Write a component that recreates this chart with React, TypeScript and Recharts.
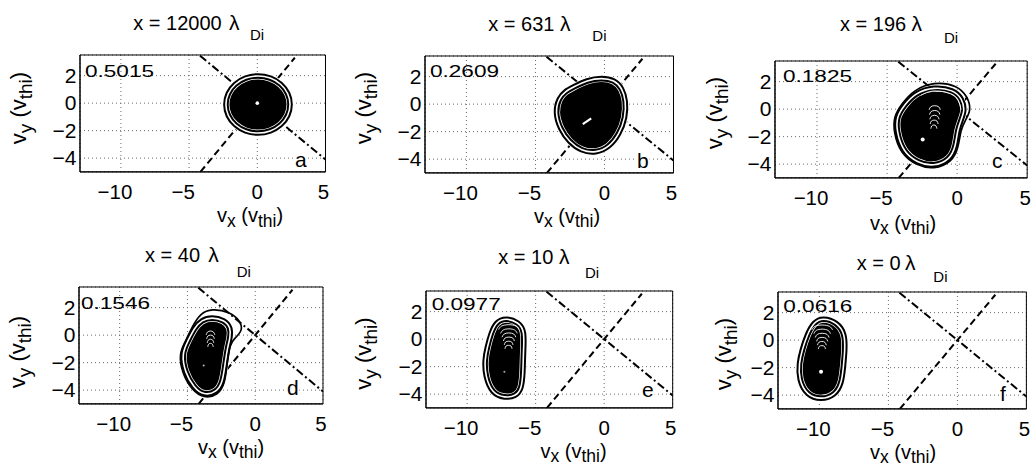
import React from 'react';
import { ScatterChart, Scatter, XAxis, YAxis, CartesianGrid, ReferenceArea, Curve } from 'recharts';

const FONT = "'Liberation Sans', Arial, Helvetica, sans-serif";

// ---------------- data ----------------
const xTicks = [-10, -5, 0, 5];
const yTicks = [2, 0, -2, -4];
const xDomain: [number, number] = [-13, 5];
const yDomain: [number, number] = [-5, 3.5];

const titleValues = ['12000', '631', '196', '40', '10', '0'];
const fractions = ['0.5015', '0.2609', '0.1825', '0.1546', '0.0977', '0.0616'];
const panelLetters = ['a', 'b', 'c', 'd', 'e', 'f'];

const dashedLine = [{ x: -4.17, y: -5 }, { x: 2.75, y: 3.3 }];
const dashDotLine = [{ x: -4.2, y: 3.45 }, { x: 5, y: -4.1 }];

const coreA = [
  { x: 2.46, y: -0.1 }, { x: 2.28, y: 0.72 }, { x: 1.75, y: 1.41 }, { x: 0.97, y: 1.87 },
  { x: 0.05, y: 2.03 }, { x: -0.87, y: 1.87 }, { x: -1.65, y: 1.41 }, { x: -2.18, y: 0.72 },
  { x: -2.36, y: -0.1 }, { x: -2.18, y: -0.92 }, { x: -1.65, y: -1.61 }, { x: -0.87, y: -2.07 },
  { x: 0.05, y: -2.23 }, { x: 0.97, y: -2.07 }, { x: 1.75, y: -1.61 }, { x: 2.28, y: -0.92 },
];
const coreB = [
  { x: -2.28, y: 1.22 }, { x: -1.25, y: 1.74 }, { x: -0.2, y: 1.91 }, { x: 0.72, y: 1.75 },
  { x: 1.28, y: 1.15 }, { x: 1.55, y: 0.25 }, { x: 1.52, y: -0.98 }, { x: 1.06, y: -2.2 },
  { x: 0.35, y: -3.12 }, { x: -0.62, y: -3.55 }, { x: -1.68, y: -3.4 }, { x: -2.55, y: -2.75 },
  { x: -3.2, y: -1.82 }, { x: -3.58, y: -0.6 }, { x: -3.3, y: 0.45 }, { x: -2.83, y: 0.93 },
];
const coreC = [
  { x: -1.67, y: 1.62 }, { x: -0.25, y: 1.4 }, { x: 0.35, y: 0.75 }, { x: 0.55, y: -0.05 },
  { x: 0.3, y: -0.75 }, { x: 0.02, y: -1.5 }, { x: -0.1, y: -2.7 }, { x: -0.52, y: -3.68 },
  { x: -1.67, y: -4.17 }, { x: -2.8, y: -3.92 }, { x: -3.86, y: -3.1 }, { x: -4.32, y: -1.6 },
  { x: -4.32, y: -0.55 }, { x: -3.75, y: 0.32 }, { x: -2.98, y: 1.18 },
];
const coreD = [
  { x: -3.2, y: 1.3 }, { x: -2.3, y: 1.1 }, { x: -1.8, y: 0.55 }, { x: -1.85, y: -0.2 },
  { x: -2.05, y: -0.9 }, { x: -2.25, y: -2.3 }, { x: -2.42, y: -3.45 }, { x: -2.85, y: -4.15 },
  { x: -3.8, y: -4.38 }, { x: -4.52, y: -3.82 }, { x: -5.18, y: -2.72 }, { x: -5.42, y: -1.33 },
  { x: -4.97, y: -0.45 }, { x: -4.5, y: 0.5 }, { x: -3.95, y: 1.1 },
];
const coreE = [
  { x: -7.15, y: 1.55 }, { x: -6.25, y: 1.22 }, { x: -5.8, y: 0.6 }, { x: -5.9, y: -1.0 },
  { x: -5.92, y: -2.45 }, { x: -6.03, y: -3.62 }, { x: -6.45, y: -4.15 }, { x: -7.27, y: -4.27 },
  { x: -8.17, y: -3.95 }, { x: -8.67, y: -2.7 }, { x: -8.72, y: -1.5 }, { x: -8.52, y: -0.55 },
  { x: -8.26, y: 0.4 }, { x: -7.9, y: 1.25 },
];
const coreF = [
  { x: -9.75, y: 1.63 }, { x: -8.7, y: 1.28 }, { x: -8.15, y: 0.45 }, { x: -8.15, y: -0.72 },
  { x: -8.26, y: -1.92 }, { x: -8.38, y: -3.1 }, { x: -8.86, y: -4.0 }, { x: -9.88, y: -4.33 },
  { x: -10.92, y: -4.0 }, { x: -11.48, y: -2.88 }, { x: -11.48, y: -1.68 }, { x: -11.25, y: -0.72 },
  { x: -10.88, y: 0.42 }, { x: -10.4, y: 1.3 },
];

const ringC = [
  { x: -1.67, y: 1.99 }, { x: 0, y: 1.75 }, { x: 0.76, y: 0.9 }, { x: 1.0, y: -0.07 },
  { x: 0.59, y: -0.8 }, { x: 0.24, y: -1.53 }, { x: 0.11, y: -2.75 }, { x: -0.36, y: -3.85 },
  { x: -1.67, y: -4.38 }, { x: -2.86, y: -4.12 }, { x: -4.05, y: -3.23 }, { x: -4.53, y: -1.66 },
  { x: -4.53, y: -0.56 }, { x: -3.93, y: 0.42 }, { x: -3.1, y: 1.39 },
];
const ringD = [
  { x: -3.2, y: 1.94 }, { x: -1.87, y: 1.69 }, { x: -1.14, y: 1.09 }, { x: -0.9, y: 0.36 },
  { x: -1.51, y: -0.24 }, { x: -1.87, y: -0.6 }, { x: -2.11, y: -2.31 }, { x: -2.24, y: -3.51 },
  { x: -2.72, y: -4.36 }, { x: -3.81, y: -4.6 }, { x: -4.66, y: -4.0 }, { x: -5.39, y: -2.79 },
  { x: -5.63, y: -1.33 }, { x: -5.15, y: -0.49 }, { x: -4.66, y: 0.6 }, { x: -4.06, y: 1.58 },
];
const innerC = [
  { x: -2.6, y: 1.0 }, { x: -1.67, y: 1.32 }, { x: -0.45, y: 1.12 }, { x: 0.1, y: 0.6 }, { x: 0.28, y: -0.05 },
];

const arcsC = [
  [{ x: -2.0, y: -0.05 }, { x: -1.88, y: 0.17 }, { x: -1.6, y: 0.25 }, { x: -1.32, y: 0.17 }, { x: -1.2, y: -0.05 }],
  [{ x: -1.97, y: -0.4 }, { x: -1.86, y: -0.18 }, { x: -1.6, y: -0.1 }, { x: -1.34, y: -0.18 }, { x: -1.23, y: -0.4 }],
  [{ x: -1.95, y: -0.74 }, { x: -1.85, y: -0.53 }, { x: -1.62, y: -0.45 }, { x: -1.39, y: -0.53 }, { x: -1.29, y: -0.74 }],
  [{ x: -1.92, y: -1.08 }, { x: -1.84, y: -0.87 }, { x: -1.64, y: -0.8 }, { x: -1.44, y: -0.87 }, { x: -1.36, y: -1.08 }],
  [{ x: -1.88, y: -1.42 }, { x: -1.81, y: -1.22 }, { x: -1.66, y: -1.15 }, { x: -1.51, y: -1.22 }, { x: -1.44, y: -1.42 }],
];
const arcsD = [
  [{ x: -3.62, y: 0.02 }, { x: -3.52, y: 0.22 }, { x: -3.3, y: 0.3 }, { x: -3.08, y: 0.22 }, { x: -2.98, y: 0.02 }],
  [{ x: -3.58, y: -0.27 }, { x: -3.5, y: -0.07 }, { x: -3.3, y: 0.0 }, { x: -3.1, y: -0.07 }, { x: -3.02, y: -0.27 }],
  [{ x: -3.54, y: -0.56 }, { x: -3.47, y: -0.37 }, { x: -3.3, y: -0.3 }, { x: -3.13, y: -0.37 }, { x: -3.06, y: -0.56 }],
  [{ x: -3.5, y: -0.85 }, { x: -3.44, y: -0.66 }, { x: -3.3, y: -0.6 }, { x: -3.16, y: -0.66 }, { x: -3.1, y: -0.85 }],
];
const arcsE = [
  [{ x: -7.7, y: 0.7 }, { x: -7.48, y: 0.95 }, { x: -6.95, y: 1.05 }, { x: -6.42, y: 0.95 }, { x: -6.2, y: 0.7 }],
  [{ x: -7.55, y: 0.42 }, { x: -7.37, y: 0.66 }, { x: -6.95, y: 0.75 }, { x: -6.53, y: 0.66 }, { x: -6.35, y: 0.42 }],
  [{ x: -7.45, y: 0.14 }, { x: -7.3, y: 0.37 }, { x: -6.95, y: 0.45 }, { x: -6.6, y: 0.37 }, { x: -6.45, y: 0.14 }],
  [{ x: -7.35, y: -0.14 }, { x: -7.23, y: 0.08 }, { x: -6.95, y: 0.15 }, { x: -6.67, y: 0.08 }, { x: -6.55, y: -0.14 }],
  [{ x: -7.29, y: -0.42 }, { x: -7.19, y: -0.21 }, { x: -6.97, y: -0.15 }, { x: -6.75, y: -0.21 }, { x: -6.65, y: -0.42 }],
  [{ x: -7.24, y: -0.7 }, { x: -7.16, y: -0.5 }, { x: -6.98, y: -0.45 }, { x: -6.8, y: -0.5 }, { x: -6.72, y: -0.7 }],
];
const arcsF = [
  [{ x: -10.55, y: 0.75 }, { x: -10.33, y: 1.0 }, { x: -9.8, y: 1.1 }, { x: -9.27, y: 1.0 }, { x: -9.05, y: 0.75 }],
  [{ x: -10.4, y: 0.47 }, { x: -10.22, y: 0.71 }, { x: -9.8, y: 0.8 }, { x: -9.38, y: 0.71 }, { x: -9.2, y: 0.47 }],
  [{ x: -10.3, y: 0.19 }, { x: -10.15, y: 0.42 }, { x: -9.8, y: 0.5 }, { x: -9.45, y: 0.42 }, { x: -9.3, y: 0.19 }],
  [{ x: -10.2, y: -0.09 }, { x: -10.08, y: 0.13 }, { x: -9.8, y: 0.2 }, { x: -9.52, y: 0.13 }, { x: -9.4, y: -0.09 }],
  [{ x: -10.14, y: -0.37 }, { x: -10.04, y: -0.16 }, { x: -9.82, y: -0.1 }, { x: -9.6, y: -0.16 }, { x: -9.5, y: -0.37 }],
  [{ x: -10.08, y: -0.65 }, { x: -10.0, y: -0.45 }, { x: -9.82, y: -0.4 }, { x: -9.64, y: -0.45 }, { x: -9.56, y: -0.65 }],
];

const peakA = [{ x: 0, y: 0 }];
const peakSegB = [{ x: -1.57, y: -1.45 }, { x: -0.96, y: -1.04 }];
const peakC = [{ x: -2.46, y: -2.2 }];
const peakD = [{ x: -3.8, y: -2.2 }];
const peakE = [{ x: -7.28, y: -2.38 }];
const peakF = [{ x: -9.88, y: -2.3 }];

// ---------------- layout (pixels) ----------------
const layout = [
  { L: 79.5, R: 325, T: 55.4, B: 172.3, tMain: 133.3, tLam: 229, tSub: 250, tY: 30, tSubY: 40, yl: [26, 108], xl: [250, 222], fr: [85, 77.3], le: [295, 167] },
  { L: 425, R: 673.5, T: 55.9, B: 172.8, tMain: 488.3, tLam: 560, tSub: 592.3, tY: 30.5, tSubY: 41, yl: [371, 108], xl: [567, 222.5], fr: [430, 76.7], le: [637, 167.5] },
  { L: 774.5, R: 1026.7, T: 60.9, B: 177.8, tMain: 840, tLam: 911.5, tSub: 944, tY: 30.7, tSubY: 43.3, yl: [722, 113], xl: [903, 229.5], fr: [783, 81.7], le: [992, 168] },
  { L: 79.3, R: 323.3, T: 286.9, B: 403.8, tMain: 145, tLam: 208.3, tSub: 236.7, tY: 262, tSubY: 276.7, yl: [25, 352], xl: [231, 453.5], fr: [81, 309], le: [287, 395] },
  { L: 426, R: 672.7, T: 290.9, B: 407.8, tMain: 498.3, tLam: 559, tSub: 585, tY: 264.3, tSubY: 277.7, yl: [371, 353.5], xl: [573.5, 457.5], fr: [431.7, 310], le: [642, 397] },
  { L: 778.3, R: 1026.7, T: 291.9, B: 408.8, tMain: 856.7, tLam: 905, tSub: 933.3, tY: 269.5, tSubY: 281.7, yl: [731, 354], xl: [903, 458.5], fr: [783.3, 312], le: [1000, 401] },
];

const panelData = [
  { core: coreA, rings: [] as any[], arcs: [] as any[], inner: null as any, dots: peakA, dotR: 1.8, dotFill: '#fff', seg: null as any },
  { core: coreB, rings: [], arcs: [], inner: null, dots: [], dotR: 0, dotFill: '#fff', seg: peakSegB },
  { core: coreC, rings: [ringC], arcs: arcsC, inner: innerC, dots: peakC, dotR: 2, dotFill: '#fff', seg: null },
  { core: coreD, rings: [ringD], arcs: arcsD, inner: null, dots: peakD, dotR: 1, dotFill: '#bbb', seg: null },
  { core: coreE, rings: [], arcs: arcsE, inner: null, dots: peakE, dotR: 1, dotFill: '#aaa', seg: null },
  { core: coreF, rings: [], arcs: arcsF, inner: null, dots: peakF, dotR: 2, dotFill: '#fff', seg: null },
];

const PADL = 60, PADR = 6, PADT = 10, PADB = 40;

const NoShape = () => <g />;

const XTick = (props: any) => {
  const { x, payload, baseY } = props;
  const v = payload.value;
  const label = v < 0 ? `\u2212${Math.abs(v)}` : `${v}`;
  const dx = v < 0 ? -6 : v > 0 ? -2 : 0;
  return (
    <text x={x + dx} y={baseY} textAnchor="middle" fontSize={20.5} fontFamily={FONT} fill="#000">
      {label}
    </text>
  );
};

const YTick = (props: any) => {
  const { y, payload, rightX } = props;
  const v = payload.value;
  const label = v < 0 ? `\u2212${Math.abs(v)}` : `${v}`;
  return (
    <text x={rightX} y={y + 7.3} textAnchor="end" fontSize={21} fontFamily={FONT} fill="#000">
      {label}
    </text>
  );
};

const coreLine = (p: any) => (
  <g>
    <Curve type="basisClosed" points={p.points} fill="#000" stroke="none" />
    <Curve type="basisClosed" points={p.points} fill="none" stroke="#fff" strokeWidth={7} />
    <Curve type="basisClosed" points={p.points} fill="none" stroke="#000" strokeWidth={5.6} />
    <Curve type="basisClosed" points={p.points} fill="none" stroke="#fff" strokeWidth={1.6} />
  </g>
);
const ringLine = (p: any) => (
  <Curve type="basisClosed" points={p.points} fill="none" stroke="#000" strokeWidth={1.7} />
);
const arcLine = (p: any) => (
  <Curve type="natural" points={p.points} fill="none" stroke="#fff" strokeWidth={0.9} />
);

function Panel({ idx }: { idx: number }) {
  const cfg = layout[idx];
  const d = panelData[idx];
  const W = cfg.R - cfg.L;
  const H = cfg.B - cfg.T;
  const width = PADL + W + PADR;
  const height = PADT + H + PADB;
  return (
    <div style={{ position: 'absolute', left: cfg.L - PADL, top: cfg.T - PADT }}>
      <ScatterChart width={width} height={height} margin={{ top: PADT, right: PADR, bottom: 0, left: 0 }}>
        <CartesianGrid stroke="#666" strokeDasharray="1 3" strokeWidth={1} />
        <XAxis
          type="number" dataKey="x" domain={xDomain} ticks={xTicks} allowDataOverflow interval={0}
          height={PADB} tickLine={false} axisLine={{ stroke: '#000' }}
          tick={(p: any) => <XTick {...p} baseY={PADT + H + 27} />}
        />
        <YAxis
          type="number" dataKey="y" domain={yDomain} ticks={yTicks} allowDataOverflow interval={0}
          width={PADL} tickLine={false} axisLine={{ stroke: '#000' }}
          tick={(p: any) => <YTick {...p} rightX={PADL - 3.5} />}
        />
        <Scatter data={dashedLine} isAnimationActive={false} shape={NoShape}
          line={{ stroke: '#000', strokeWidth: 2, strokeDasharray: '7 4' }} />
        <Scatter data={dashDotLine} isAnimationActive={false} shape={NoShape}
          line={{ stroke: '#000', strokeWidth: 2, strokeDasharray: '8 3 2 3' }} />
        <Scatter data={d.core} isAnimationActive={false} shape={NoShape} line={coreLine} />
        {d.rings.map((r: any, i: number) => (
          <Scatter key={`r${i}`} data={r} isAnimationActive={false} shape={NoShape} line={ringLine} />
        ))}
        {d.inner && (
          <Scatter data={d.inner} isAnimationActive={false} shape={NoShape} line={arcLine} />
        )}
        {d.arcs.map((a: any, i: number) => (
          <Scatter key={`a${i}`} data={a} isAnimationActive={false} shape={NoShape} line={arcLine} />
        ))}
        {d.seg && (
          <Scatter data={d.seg} isAnimationActive={false} shape={NoShape}
            line={{ stroke: '#fff', strokeWidth: 2.2 }} />
        )}
        {d.dots.length > 0 && (
          <Scatter data={d.dots} isAnimationActive={false}
            shape={(p: any) => <circle cx={p.cx} cy={p.cy} r={d.dotR} fill={d.dotFill} />} />
        )}
        <ReferenceArea x1={xDomain[0]} x2={xDomain[1]} y1={yDomain[0]} y2={yDomain[1]}
          fill="none" fillOpacity={0} stroke="#000" strokeWidth={1} />
      </ScatterChart>
    </div>
  );
}

function Texts() {
  return (
    <svg width={1031} height={470} style={{ position: 'absolute', left: 0, top: 0, pointerEvents: 'none' }}
      fontFamily={FONT} fill="#000">
      {layout.map((c, i) => (
        <g key={i}>
          <text x={c.tMain} y={c.tY} fontSize={20}>{`x = ${titleValues[i]}`}</text>
          <text x={c.tLam} y={c.tY} fontSize={21}>λ</text>
          <text x={c.tSub} y={c.tSubY} fontSize={15}>Di</text>
          <text x={c.xl[0]} y={c.xl[1]} fontSize={20} textAnchor="middle">
            v<tspan fontSize={17.5} dy={4.5}>x</tspan><tspan dy={-4.5}> (v</tspan><tspan fontSize={17.5} dy={4.5}>thi</tspan><tspan dy={-4.5}>)</tspan>
          </text>
          <text transform={`translate(${c.yl[0]},${c.yl[1]}) rotate(-90)`} fontSize={22} textAnchor="middle">
            v<tspan fontSize={19} dy={6}>y</tspan><tspan dy={-6}> (v</tspan><tspan fontSize={19} dy={6}>thi</tspan><tspan dy={-6}>)</tspan>
          </text>
          <text x={c.fr[0]} y={c.fr[1]} fontSize={17} textLength={69} lengthAdjust="spacingAndGlyphs">{fractions[i]}</text>
          <text x={c.le[0]} y={c.le[1]} fontSize={21} stroke="#fff" strokeWidth={4} paintOrder="stroke">{panelLetters[i]}</text>
        </g>
      ))}
    </svg>
  );
}

export default function App() {
  return (
    <div style={{ position: 'absolute', left: 0, top: 0, width: 1031, height: 470, background: '#fff', overflow: 'hidden' }}>
      {layout.map((_, i) => <Panel key={i} idx={i} />)}
      <Texts />
    </div>
  );
}
